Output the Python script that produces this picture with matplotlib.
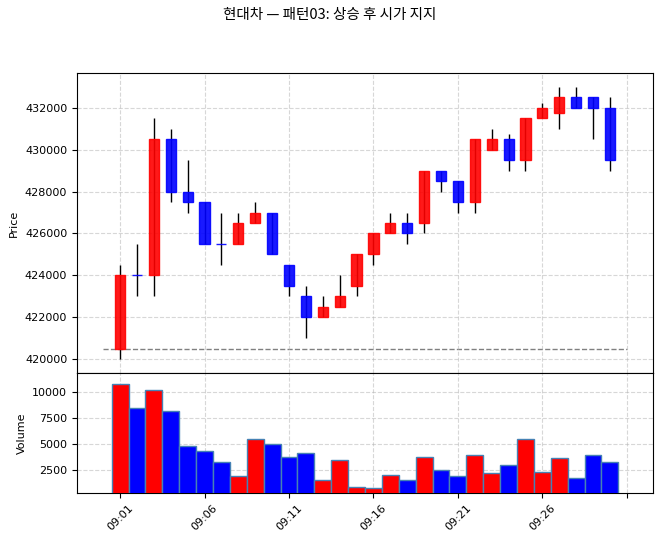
import matplotlib
matplotlib.use("Agg")
import matplotlib.pyplot as plt
from matplotlib.ticker import FuncFormatter, FixedLocator
import numpy as np

plt.rcParams['font.family'] = ['DejaVu Sans', 'Noto Sans CJK KR']

times = [f"09:{m:02d}" for m in range(1, 31)]
opens = [420500, 424000, 424000, 430500, 428000, 427500, 425500, 425500, 426500, 427000,
         424500, 423000, 422000, 422500, 423500, 425000, 426000, 426500, 426500, 429000,
         428500, 427500, 430000, 430500, 429500, 431500, 431750, 432500, 432500, 432000]
highs = [424500, 425500, 431500, 431000, 429500, 427500, 427000, 427000, 427500, 427000,
         424500, 423500, 423000, 424000, 425000, 426000, 427000, 427000, 429000, 429000,
         428500, 430500, 431000, 430750, 431500, 432200, 433000, 433000, 432500, 432500]
lows = [420000, 423000, 423000, 427500, 427000, 425500, 424500, 425500, 426500, 425000,
        423000, 421000, 422000, 422500, 423000, 424500, 426000, 425500, 426000, 428000,
        427000, 427000, 430000, 429000, 429000, 431500, 431000, 432000, 430500, 429000]
closes = [424000, 424000, 430500, 428000, 427500, 425500, 425500, 426500, 427000, 425000,
          423500, 422000, 422500, 423000, 425000, 426000, 426500, 426000, 429000, 428500,
          427500, 430500, 430500, 429500, 431500, 432000, 432500, 432000, 432000, 429500]
volumes = [10770, 8450, 10190, 8200, 4800, 4330, 3270, 1890, 5490, 5000,
           3750, 4140, 1530, 3460, 860, 760, 2020, 1530, 3750, 2500,
           1920, 3950, 2210, 2980, 5490, 2300, 3660, 1730, 3950, 3270]
support_level = 420500
title = "현대차 — 패턴03: 상승 후 시가 지지"

n = len(times)
x = np.arange(n)
o = np.array(opens); c = np.array(closes); h = np.array(highs); l = np.array(lows)
v = np.array(volumes)
up = c > o
body_colors = np.where(up, 'red', 'blue')

fig = plt.figure(figsize=(6.6, 5.42), dpi=100)
ax1 = fig.add_axes([77/660, 1-373/542, 576/660, 300/542])
ax2 = fig.add_axes([77/660, 1-493/542, 576/660, 120/542], sharex=ax1)

# wicks
ax1.vlines(x, l, h, color='black', linewidth=1, zorder=2)
# bodies
ax1.bar(x, np.abs(c - o), bottom=np.minimum(o, c), width=0.6,
        color=body_colors, edgecolor=body_colors, linewidth=1, alpha=0.9, zorder=3)
ax1.hlines(support_level, -1, n, colors='gray', linestyles='--', linewidth=1, zorder=1)

ax1.set_ylabel('Price', fontsize=8)
ax1.set_ylim(419350, 433650)
ax1.yaxis.set_major_locator(FixedLocator([420000, 422000, 424000, 426000, 428000, 430000, 432000]))
ax1.ticklabel_format(axis='y', style='plain', useOffset=False)
ax1.grid(True, linestyle='--', alpha=0.5)
ax1.tick_params(labelbottom=False, labelsize=8)

ax2.bar(x, v, width=1.0, color=body_colors, edgecolor='steelblue', linewidth=1, zorder=3)
ax2.set_ylim(280, max(volumes) * 1.1)
ax2.yaxis.set_major_locator(FixedLocator([2500, 5000, 7500, 10000]))
ax2.set_ylabel('Volume', fontsize=8)
ax2.grid(True, linestyle='--', alpha=0.5)
ax2.tick_params(labelsize=8)

ax2.set_xlim(-2.55, n + 1.55)
ax2.xaxis.set_major_locator(FixedLocator(list(range(0, n + 1, 5))))
ax2.xaxis.set_major_formatter(FuncFormatter(lambda val, pos: times[int(round(val))] if 0 <= int(round(val)) < n else ''))
ax2.tick_params(axis='x', rotation=45)

fig.suptitle(title, fontsize=10.5, y=0.985, family=['Noto Sans CJK KR', 'DejaVu Sans'])
fig.savefig('out.png', dpi=100)
